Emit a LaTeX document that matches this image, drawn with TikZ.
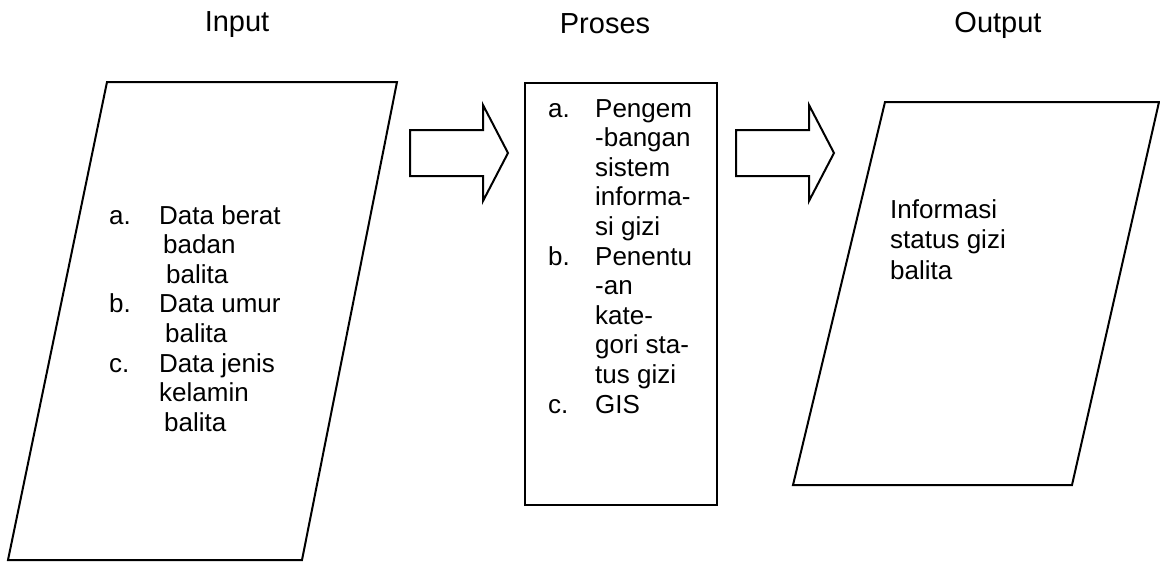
\documentclass[tikz,border=0pt]{standalone}
\usepackage{fontspec}
\setmainfont{Liberation Sans}
\usetikzlibrary{positioning}

\begin{document}
\begin{tikzpicture}[x=1pt, y=-1pt,
        box/.style={draw, line width=2pt, line join=miter},
        blockarrow/.style={draw, line width=2pt, line join=miter, fill=white},
        heading/.style={font=\fontsize{29}{34}\selectfont, inner sep=0pt, anchor=base},
        listing/.style={font=\fontsize{26}{29.6}\selectfont, inner sep=0pt, anchor=base west}]
    \useasboundingbox (0,0) rectangle (1160,563);

    % headings
    \node[heading] (input)  at (237,31) {Input};
    \node[heading] (proses) at (605,33) {Proses};
    \node[heading] (output) at (998,32) {Output};

    % input parallelogram
    \coordinate (in-nw) at (107,82);
    \coordinate (in-ne) at (397,82);
    \coordinate (in-se) at (302,560);
    \coordinate (in-sw) at (8,560);
    \draw[box] (in-nw) -- (in-ne) -- (in-se) -- (in-sw) -- cycle;

    % process rectangle
    \coordinate (pr-nw) at (525,83);
    \coordinate (pr-se) at (717,505);
    \draw[box] (pr-nw) rectangle (pr-se);

    % output parallelogram
    \coordinate (out-nw) at (885,102);
    \coordinate (out-ne) at (1159,102);
    \coordinate (out-se) at (1072,485);
    \coordinate (out-sw) at (793,485);
    \draw[box] (out-nw) -- (out-ne) -- (out-se) -- (out-sw) -- cycle;

    % block arrows between the boxes
    \foreach \s in {410,736}
        \draw[blockarrow, shift={(\s,153)}] (0,-23) -- (73,-23) -- (73,-48) -- (98,0)
            -- (73,48) -- (73,23) -- (0,23) -- cycle;

    % texts
    \node[listing] (input-list) at (109,224) {\begin{tabular}[t]{@{}p{50pt}@{}l@{}}
        a. & Data berat\\
           & \hspace*{4pt}badan\\
           & \hspace*{7pt}balita\\
        b. & Data umur\\
           & \hspace*{6pt}balita\\
        c. & Data jenis\\
           & kelamin\\
           & \hspace*{5pt}balita
        \end{tabular}};
    \node[listing] (proses-list) at (548,117) {\begin{tabular}[t]{@{}p{47pt}@{}l@{}}
        a. & Pengem\\
           & -bangan\\
           & sistem\\
           & informa-\\
           & si gizi\\
        b. & Penentu\\
           & -an\\
           & kate-\\
           & gori sta-\\
           & tus gizi\\
        c. & GIS
        \end{tabular}};
    \node[listing, font=\fontsize{26}{30.5}\selectfont] (output-list) at (890,218) {\begin{tabular}[t]{@{}l@{}}
        Informasi\\
        status gizi\\
        balita
        \end{tabular}};
\end{tikzpicture}
\end{document}
